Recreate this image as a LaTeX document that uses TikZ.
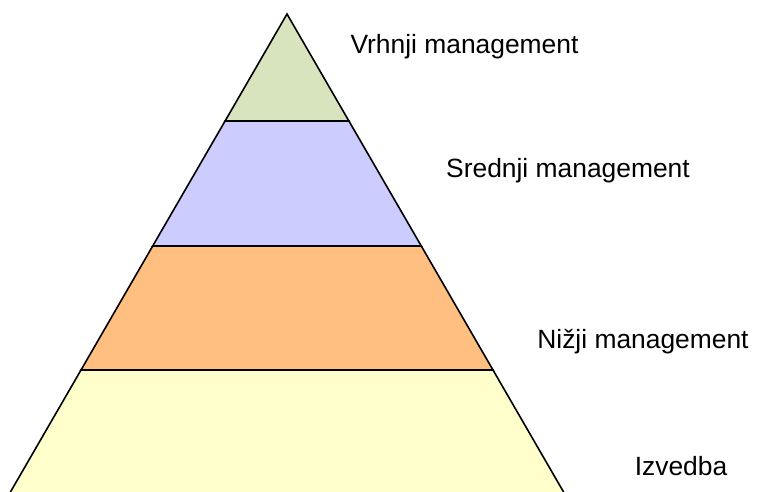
\documentclass[tikz,border=0pt]{standalone}
\usepackage{fontspec}
\setmainfont{Liberation Sans}
\usepackage{xcolor}

\definecolor{topgreen}{HTML}{D7E4BD}
\definecolor{midblue}{HTML}{CCCCFF}
\definecolor{loworange}{HTML}{FFBF80}
\definecolor{baseyellow}{HTML}{FFFFCC}

\tikzset{
  layer/.style={draw=black, line width=1.6pt, line join=miter},
  level/.style={font=\fontsize{26.4}{30}\selectfont, inner sep=0pt}
}

\begin{document}
\begin{tikzpicture}[x=1pt, y=-1pt]
\clip (0,0) rectangle (761,491);

% edge points of the pyramid
\coordinate (apex) at (287,14);
\coordinate (l1) at (225.1,121);
\coordinate (r1) at (348.9,121);
\coordinate (l2) at (152.7,246);
\coordinate (r2) at (421.3,246);
\coordinate (l3) at (81,370);
\coordinate (r3) at (493,370);
\coordinate (l4) at (5.8,500);
\coordinate (r4) at (568.2,500);

\draw[layer, fill=baseyellow] (l3) -- (r3) -- (r4) -- (l4) -- cycle;
\draw[layer, fill=loworange] (l2) -- (r2) -- (r3) -- (l3) -- cycle;
\draw[layer, fill=midblue] (l1) -- (r1) -- (r2) -- (l2) -- cycle;
\draw[layer, fill=topgreen] (apex) -- (r1) -- (l1) -- cycle;

\node[level] (top) at (464.5,47) {Vrhnji management};
\node[level] (mid) at (568,171) {Srednji management};
\node[level] (low) at (643,342) {Nižji management};
\node[level] (base) at (681,466) {Izvedba};

\end{tikzpicture}
\end{document}
